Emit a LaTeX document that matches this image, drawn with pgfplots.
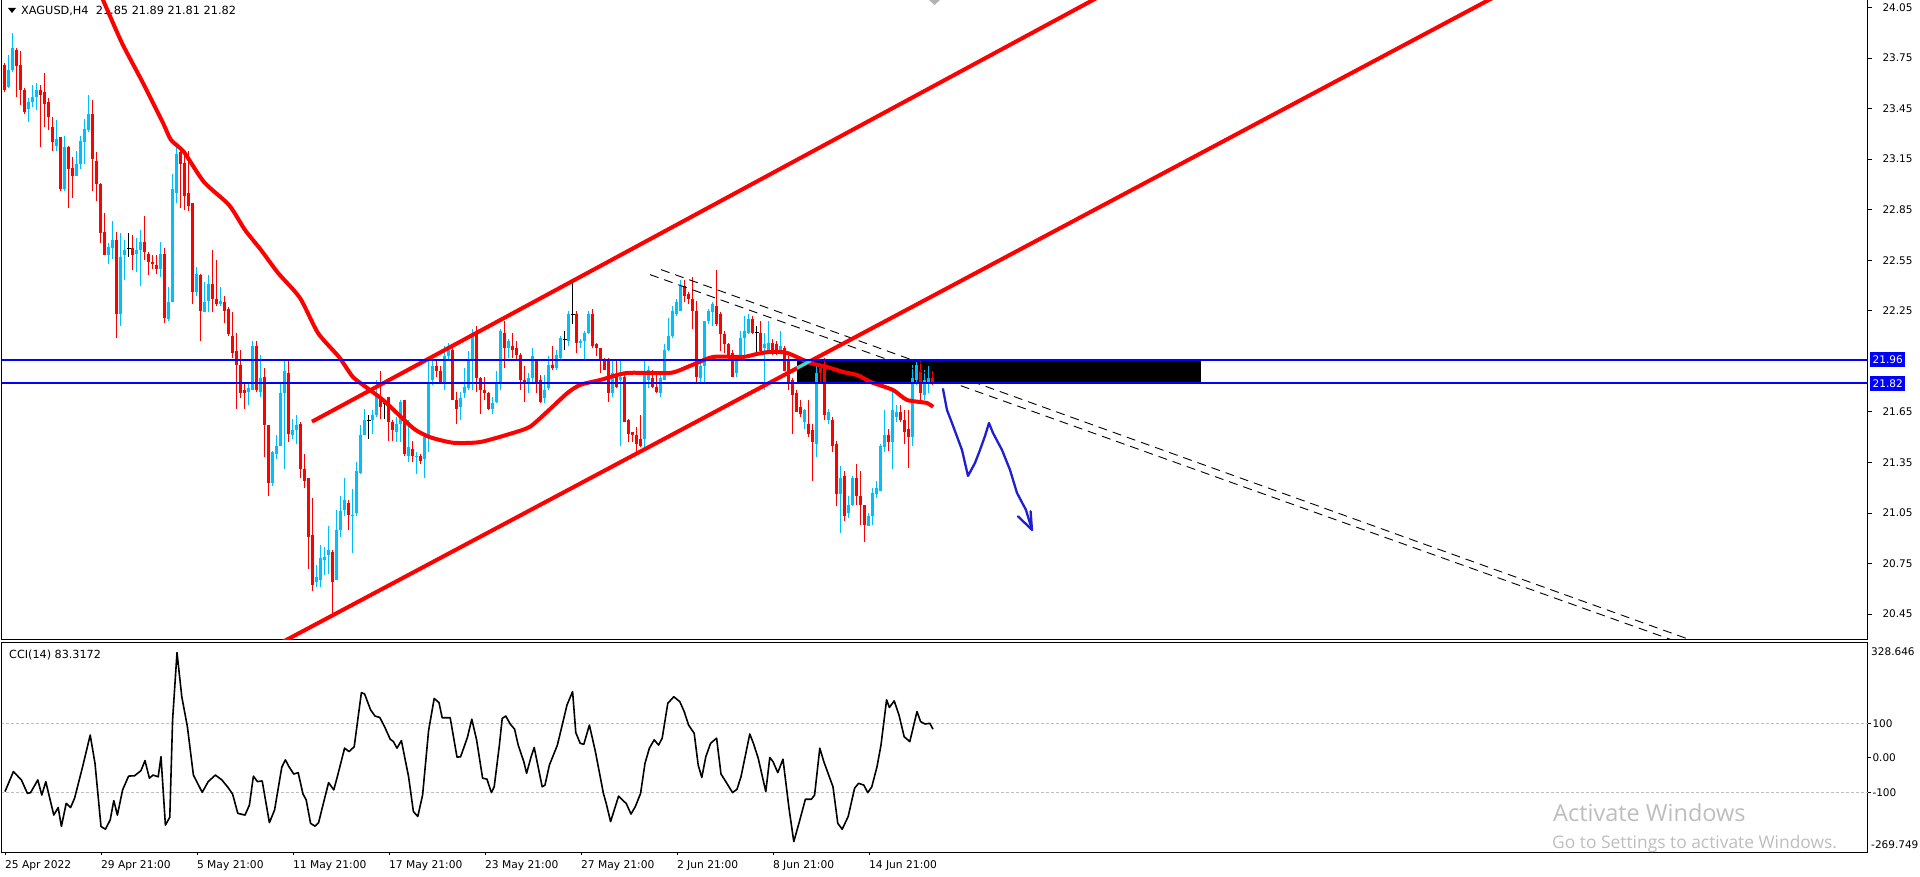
\documentclass[border=0pt]{standalone}
\usepackage{fontspec}
\setmainfont{DejaVu Sans}
\newfontfamily\wmfont{Open Sans}
\usepackage{pgfplots}
\usepackage{pgfplotstable}
\pgfplotsset{compat=1.18}
\definecolor{cblue}{RGB}{0,191,255}
\definecolor{cred}{RGB}{255,0,0}
\definecolor{lblue}{RGB}{0,0,255}
\definecolor{arrowblue}{RGB}{30,30,210}
\definecolor{wm}{RGB}{190,190,190}
\definecolor{ccigrid}{RGB}{190,190,190}
\definecolor{xorcyan}{RGB}{40,230,230}

% t: 1 = up (blue), 2 = down (red), 0 = doji (black)
\pgfplotstableread{
i t o h l c
0 2 23.71 23.72 23.55 23.56
1 1 23.58 23.77 23.57 23.68
2 1 23.68 23.90 23.67 23.81
3 2 23.80 23.81 23.52 23.70
4 2 23.71 23.79 23.47 23.56
5 2 23.56 23.57 23.42 23.43
6 1 23.45 23.51 23.37 23.49
7 1 23.49 23.59 23.46 23.52
8 1 23.52 23.60 23.44 23.56
9 2 23.56 23.59 23.22 23.53
10 2 23.55 23.66 23.34 23.48
11 2 23.49 23.51 23.32 23.40
12 2 23.34 23.40 23.20 23.25
13 1 23.23 23.38 23.20 23.27
14 2 23.28 23.28 22.96 22.97
15 1 22.97 23.29 22.96 23.22
16 2 23.22 23.23 22.86 23.09
17 2 23.10 23.16 22.92 23.05
18 1 23.05 23.20 23.05 23.12
19 1 23.12 23.29 23.09 23.26
20 1 23.25 23.39 23.12 23.33
21 1 23.32 23.53 23.31 23.42
22 2 23.42 23.50 22.96 23.15
23 2 23.14 23.19 22.90 23.00
24 2 23.00 23.01 22.65 22.71
25 2 22.72 22.83 22.58 22.58
26 1 22.58 22.65 22.53 22.63
27 1 22.62 22.78 22.56 22.67
28 2 22.67 22.72 22.09 22.23
29 1 22.23 22.71 22.16 22.57
30 1 22.58 22.67 22.43 22.61
31 0 22.62 22.71 22.57 22.62
32 2 22.62 22.70 22.49 22.58
33 1 22.59 22.68 22.48 22.61
34 1 22.61 22.73 22.40 22.66
35 2 22.66 22.81 22.55 22.60
36 2 22.59 22.60 22.46 22.54
37 2 22.54 22.58 22.50 22.53
38 2 22.52 22.58 22.47 22.50
39 1 22.50 22.66 22.45 22.59
40 2 22.59 22.62 22.18 22.21
41 1 22.20 22.39 22.19 22.30
42 1 22.30 23.06 22.30 22.97
43 1 22.95 23.24 22.89 23.18
44 2 23.19 23.21 22.86 23.12
45 2 23.13 23.19 22.85 22.93
46 2 22.95 23.20 22.84 22.87
47 2 22.89 22.89 22.29 22.36
48 1 22.36 22.51 22.34 22.47
49 2 22.46 22.47 22.07 22.25
50 1 22.24 22.42 22.24 22.30
51 1 22.31 22.46 22.24 22.41
52 2 22.41 22.61 22.24 22.32
53 2 22.32 22.55 22.28 22.29
54 1 22.29 22.39 22.28 22.31
55 2 22.30 22.34 22.18 22.25
56 2 22.26 22.27 22.10 22.11
57 2 22.10 22.24 21.97 22.00
58 2 22.01 22.12 21.67 21.93
59 2 21.93 22.02 21.73 21.76
60 2 21.78 21.83 21.67 21.76
61 1 21.77 21.83 21.69 21.79
62 1 21.78 22.07 21.78 22.04
63 2 22.04 22.07 21.77 21.78
64 1 21.77 21.99 21.74 21.85
65 2 21.86 21.91 21.38 21.57
66 2 21.57 21.57 21.15 21.23
67 1 21.23 21.42 21.21 21.41
68 1 21.40 21.51 21.37 21.45
69 1 21.45 21.82 21.45 21.76
70 1 21.76 21.95 21.31 21.89
71 2 21.88 21.95 21.47 21.52
72 1 21.51 21.61 21.49 21.54
73 1 21.54 21.63 21.46 21.57
74 2 21.58 21.59 21.26 21.31
75 2 21.31 21.40 21.20 21.24
76 2 21.26 21.26 20.72 20.91
77 2 20.92 21.14 20.59 20.62
78 1 20.64 20.74 20.61 20.67
79 1 20.65 20.86 20.61 20.78
80 1 20.77 20.85 20.68 20.79
81 1 20.80 20.97 20.69 20.83
82 2 20.82 20.83 20.44 20.64
83 1 20.65 21.07 20.65 20.95
84 1 20.95 21.15 20.91 21.06
85 1 21.07 21.26 21.03 21.13
86 2 21.11 21.13 20.95 21.04
87 1 21.03 21.19 20.81 21.04
88 1 21.05 21.35 21.03 21.30
89 1 21.29 21.57 21.28 21.51
90 1 21.51 21.67 21.51 21.60
91 0 21.60 21.63 21.49 21.60
92 1 21.60 21.66 21.52 21.63
93 1 21.63 21.84 21.62 21.75
94 2 21.74 21.89 21.61 21.68
95 0 21.70 21.71 21.61 21.70
96 2 21.74 21.74 21.48 21.59
97 2 21.59 21.60 21.48 21.54
98 1 21.53 21.62 21.47 21.58
99 1 21.58 21.72 21.47 21.71
100 2 21.72 21.72 21.39 21.40
101 1 21.39 21.60 21.35 21.44
102 2 21.43 21.48 21.35 21.39
103 1 21.38 21.41 21.28 21.39
104 2 21.39 21.40 21.34 21.36
105 1 21.37 21.51 21.26 21.50
106 1 21.51 21.96 21.41 21.83
107 1 21.84 21.95 21.81 21.92
108 2 21.92 21.95 21.86 21.89
109 2 21.89 21.92 21.82 21.82
110 1 21.82 22.04 21.78 21.98
111 1 21.98 22.06 21.96 22.02
112 2 22.02 22.04 21.72 21.72
113 2 21.72 21.77 21.58 21.67
114 1 21.68 21.77 21.60 21.73
115 1 21.76 21.91 21.73 21.80
116 1 21.79 22.01 21.78 21.95
117 1 21.95 22.14 21.78 22.12
118 2 22.12 22.16 21.77 21.85
119 2 21.85 21.86 21.64 21.78
120 2 21.78 21.86 21.72 21.76
121 2 21.76 21.77 21.66 21.67
122 1 21.67 21.74 21.64 21.70
123 1 21.71 21.89 21.70 21.82
124 1 21.83 22.14 21.78 22.13
125 2 22.12 22.19 21.91 22.03
126 1 22.03 22.08 21.97 22.07
127 2 22.04 22.12 21.97 22.02
128 2 22.03 22.07 21.95 21.99
129 2 21.99 22.00 21.78 21.84
130 2 21.84 21.92 21.71 21.82
131 1 21.82 21.88 21.76 21.85
132 1 21.85 22.03 21.82 21.98
133 2 21.95 21.96 21.76 21.82
134 2 21.84 21.87 21.70 21.71
135 1 21.73 21.87 21.70 21.78
136 1 21.79 21.98 21.78 21.93
137 2 21.93 22.04 21.90 21.91
138 1 21.91 22.02 21.90 21.99
139 1 21.97 22.10 21.95 22.09
140 0 22.08 22.13 22.02 22.08
141 1 22.07 22.25 22.04 22.23
142 0 22.23 22.42 22.17 22.23
143 2 22.23 22.25 22.00 22.06
144 1 22.06 22.08 22.03 22.07
145 1 22.07 22.13 21.96 22.12
146 1 22.12 22.25 22.11 22.23
147 2 22.23 22.26 22.03 22.04
148 2 22.05 22.06 21.98 22.03
149 2 22.03 22.03 21.88 21.96
150 2 21.96 21.97 21.90 21.90
151 2 21.96 21.97 21.71 21.76
152 1 21.76 21.96 21.74 21.88
153 2 21.86 21.95 21.79 21.80
154 1 21.84 21.96 21.45 21.86
155 2 21.86 21.87 21.59 21.59
156 2 21.60 21.61 21.47 21.52
157 2 21.53 21.53 21.47 21.51
158 2 21.51 21.56 21.41 21.46
159 2 21.49 21.63 21.44 21.45
160 1 21.49 21.95 21.44 21.87
161 1 21.84 21.92 21.79 21.90
162 2 21.85 21.90 21.79 21.80
163 2 21.80 21.87 21.76 21.77
164 1 21.76 21.87 21.74 21.85
165 1 21.84 22.05 21.84 22.02
166 1 22.02 22.21 22.01 22.10
167 1 22.10 22.28 22.09 22.25
168 1 22.23 22.32 22.22 22.30
169 1 22.25 22.43 22.25 22.40
170 2 22.40 22.43 22.30 22.34
171 2 22.35 22.36 22.29 22.32
172 2 22.32 22.45 22.14 22.25
173 2 22.25 22.31 21.82 21.86
174 1 21.85 21.96 21.82 21.92
175 1 21.92 22.19 21.83 22.19
176 1 22.19 22.26 22.17 22.25
177 1 22.24 22.30 22.16 22.29
178 2 22.28 22.49 22.16 22.17
179 2 22.23 22.24 22.01 22.11
180 2 22.11 22.13 22.00 22.05
181 2 22.05 22.06 21.96 21.99
182 2 22.00 22.02 21.86 21.86
183 1 21.88 21.99 21.86 21.98
184 1 21.98 22.13 21.97 22.09
185 1 22.09 22.22 21.98 22.13
186 1 22.12 22.23 22.11 22.20
187 2 22.20 22.22 22.11 22.12
188 0 22.12 22.16 22.00 22.12
189 2 22.12 22.19 22.00 22.01
190 1 22.03 22.12 21.78 22.05
191 1 22.01 22.19 22.00 22.06
192 2 22.06 22.08 21.99 22.00
193 2 22.05 22.07 21.99 22.00
194 1 22.01 22.13 22.00 22.04
195 2 22.03 22.04 21.89 21.89
196 2 21.96 21.98 21.78 21.83
197 2 21.84 21.85 21.52 21.75
198 2 21.76 21.78 21.65 21.65
199 2 21.68 21.72 21.62 21.64
200 1 21.59 21.67 21.55 21.66
201 2 21.58 21.72 21.50 21.52
202 2 21.54 21.58 21.24 21.47
203 1 21.46 21.94 21.38 21.88
204 2 21.91 21.93 21.83 21.88
205 2 21.93 21.97 21.60 21.63
206 1 21.60 21.67 21.58 21.65
207 2 21.60 21.62 21.41 21.45
208 2 21.46 21.48 21.09 21.16
209 1 21.16 21.33 20.93 21.26
210 2 21.27 21.30 21.00 21.03
211 1 21.05 21.15 21.02 21.10
212 1 21.10 21.27 21.09 21.26
213 2 21.26 21.34 21.10 21.15
214 2 21.15 21.30 20.98 21.10
215 2 21.10 21.10 20.88 20.98
216 1 20.97 21.05 20.97 21.03
217 1 21.03 21.20 20.98 21.17
218 1 21.16 21.24 21.14 21.20
219 1 21.18 21.46 21.18 21.45
220 1 21.44 21.66 21.41 21.51
221 2 21.51 21.55 21.42 21.47
222 1 21.47 21.78 21.31 21.66
223 1 21.62 21.69 21.59 21.65
224 2 21.65 21.69 21.59 21.60
225 2 21.60 21.66 21.46 21.53
226 2 21.55 21.66 21.32 21.50
227 1 21.50 21.93 21.45 21.85
228 1 21.84 21.95 21.81 21.93
229 2 21.90 21.95 21.72 21.76
230 1 21.75 21.90 21.72 21.84
231 1 21.83 21.92 21.76 21.85
232 2 21.85 21.89 21.81 21.82
}\candles

% build one jump-separated segment list per colour from the OHLC table
\def\rw{}\def\rb{}\def\bw{}\def\bb{}\def\kw{}\def\kb{}
\pgfplotsforeachungrouped \cidx in {0,...,232}{%
 \pgfplotstablegetelem{\cidx}{t}\of{\candles}\let\ct\pgfplotsretval
 \pgfplotstablegetelem{\cidx}{o}\of{\candles}\let\co\pgfplotsretval
 \pgfplotstablegetelem{\cidx}{h}\of{\candles}\let\ch\pgfplotsretval
 \pgfplotstablegetelem{\cidx}{l}\of{\candles}\let\cl\pgfplotsretval
 \pgfplotstablegetelem{\cidx}{c}\of{\candles}\let\cc\pgfplotsretval
 \ifcase\ct\relax
  \pgfmathsetmacro\xa{\cidx-0.4}\pgfmathsetmacro\xb{\cidx+0.4}%
  \xdef\kw{\kw (\cidx,\cl) (\cidx,\ch) (\cidx,nan)}%
  \xdef\kb{\kb (\xa,\co) (\xb,\co) (\cidx,nan)}%
 \or
  \xdef\bw{\bw (\cidx,\cl) (\cidx,\ch) (\cidx,nan)}%
  \xdef\bb{\bb (\cidx,\co) (\cidx,\cc) (\cidx,nan)}%
 \or
  \xdef\rw{\rw (\cidx,\cl) (\cidx,\ch) (\cidx,nan)}%
  \xdef\rb{\rb (\cidx,\co) (\cidx,\cc) (\cidx,nan)}%
 \fi
}
\edef\plotcandles{%
 \noexpand\addplot[cred, line width=1pt, unbounded coords=jump] coordinates {\rw};
 \noexpand\addplot[cred, line width=3pt, unbounded coords=jump] coordinates {\rb};
 \noexpand\addplot[cblue, line width=1pt, unbounded coords=jump] coordinates {\bw};
 \noexpand\addplot[cblue, line width=3pt, unbounded coords=jump] coordinates {\bb};
 \noexpand\addplot[black, line width=1pt, unbounded coords=jump] coordinates {\kw};
 \noexpand\addplot[black, line width=1pt, unbounded coords=jump] coordinates {\kb};
}

\begin{document}
\begin{tikzpicture}
\useasboundingbox (0pt,0pt) rectangle (1920pt,876pt);
\fill[white] (0pt,0pt) rectangle (1920pt,876pt);
% title
\fill[black] (8pt,868pt) -- (16pt,868pt) -- (12pt,863pt) -- cycle;
\node[anchor=west, inner sep=0pt, font=\fontsize{11.3}{13}\selectfont] at (21pt,865pt) {XAGUSD,H4\ \ 21.85 21.89 21.81 21.82};
\fill[gray!60] (929pt,876pt) -- (940pt,876pt) -- (934.5pt,871pt) -- cycle;

% ===== main price panel =====
\begin{axis}[
 at={(2pt,236pt)}, anchor=south west, scale only axis,
 width=1866pt, height=640pt,
 xmin=-0.75, xmax=465.75, ymin=20.2963, ymax=24.0945,
 xtick=\empty,
 ytick={20.45,20.75,21.05,21.35,21.65,22.25,22.55,22.85,23.15,23.45,23.75,24.05},
 yticklabels={20.45,20.75,21.05,21.35,21.65,22.25,22.55,22.85,23.15,23.45,23.75,24.05},
 ytick pos=right, yticklabel pos=right, tick align=outside, major tick length=4pt,
 tick style={black, line width=0.8pt},
 yticklabel style={anchor=west, font=\fontsize{10.5}{12}\selectfont, xshift=7pt},
 axis line style={black, line width=1pt},
]
% black zone
\addplot[fill=black, draw=none] coordinates {(198,21.82) (298.9,21.82) (298.9,21.96) (198,21.96)} -- cycle;

% candles
\plotcandles

% dashed trend lines
\addplot[black, line width=0.9pt, dash pattern=on 9pt off 6pt] coordinates {(164,22.4945) (425,20.266)};
\addplot[black, line width=0.9pt, dash pattern=on 9pt off 6pt] coordinates {(161.25,22.4648) (420,20.269)};

% moving average
\addplot[cred, line width=4pt, line join=round, smooth, tension=0.4] coordinates {
(22.5,24.20) (24.5,24.0945) (29.25,23.839) (34.5,23.602) (39.5,23.365) (41.5,23.264) (44.75,23.192) (49.75,23.014) (56,22.878) (60,22.730) (64,22.611) (68.25,22.475) (73.75,22.326) (78.25,22.118) (83.5,21.976) (87,21.857) (91.25,21.780) (94.5,21.721) (99,21.620) (102.5,21.545) (106.25,21.500) (112,21.467) (118.75,21.471) (127,21.525) (131.25,21.562) (135.5,21.650) (140.5,21.760) (143.75,21.810) (148.75,21.839) (155.5,21.881) (166.25,21.881) (171.25,21.923) (177,21.976) (184.5,21.976) (188,21.994) (191.25,22.006) (195.5,22.000) (201.25,21.941) (205.5,21.917) (209.5,21.887) (213,21.869) (215.5,21.839) (217,21.822) (222,21.780) (225.5,21.721) (230.5,21.703) (232,21.679)};

% channel lines
\addplot[cred, line width=4pt] coordinates {(76.75,21.592) (280,24.197)};
\addplot[cred, line width=4pt] coordinates {(60,20.166) (380,24.209)};
\addplot[xorcyan, line width=3pt] coordinates {(198,21.91) (201.4,21.953)};

% horizontal levels
\addplot[lblue, line width=2pt] coordinates {(-1,21.96) (470,21.96)};
\addplot[lblue, line width=2pt] coordinates {(-1,21.82) (470,21.82)};

% hand-drawn projection arrow
\addplot[arrowblue, line width=2.3pt, line join=round, line cap=round] coordinates {
(234.5,21.786) (235.5,21.661) (236.75,21.584) (239.25,21.424) (240.75,21.270) (242.5,21.347) (243.75,21.424) (245,21.507) (246,21.584) (247,21.525) (249.25,21.424) (251.25,21.306) (253,21.169) (255.25,21.068) (256.75,20.950)};
\addplot[arrowblue, line width=2.3pt, line join=round, line cap=round] coordinates {(253.25,21.030) (256.75,20.950) (256.4,21.060)};

\coordinate (b1) at (axis cs:465.75,21.96);
\coordinate (b2) at (axis cs:465.75,21.82);
\end{axis}

\node[fill=lblue, text=white, anchor=west, inner xsep=2.5pt, inner ysep=0pt, minimum height=15pt, font=\fontsize{10.5}{12}\selectfont] at ([xshift=2pt]b1) {21.96};
\node[fill=lblue, text=white, anchor=west, inner xsep=2.5pt, inner ysep=0pt, minimum height=15pt, font=\fontsize{10.5}{12}\selectfont] at ([xshift=2pt]b2) {21.82};

% ===== CCI panel =====
\begin{axis}[
 at={(2pt,24pt)}, anchor=south west, scale only axis,
 width=1866pt, height=209pt,
 xmin=-0.75, xmax=465.75, ymin=-273, ymax=332.8,
 xtick={0,24,48,72,96,120,144,168,192,216},
 xticklabels={25 Apr 2022,29 Apr 21:00,5 May 21:00,11 May 21:00,17 May 21:00,23 May 21:00,27 May 21:00,2 Jun 21:00,8 Jun 21:00,14 Jun 21:00},
 xtick pos=bottom, ytick pos=right, yticklabel pos=right,
 ytick={-100,0,100}, yticklabels={-100,0.00,100},
 tick align=outside, major tick length=3pt,
 tick style={black, line width=0.8pt},
 xticklabel style={anchor=north west, font=\fontsize{10.7}{12}\selectfont, xshift=-3.5pt, yshift=-2.5pt},
 yticklabel style={anchor=west, font=\fontsize{10.5}{12}\selectfont, xshift=-2pt},
 axis line style={black, line width=1pt},
]
\addplot[ccigrid, line width=0.8pt, dash pattern=on 3pt off 2pt] coordinates {(-1,100) (470,100)};
\addplot[ccigrid, line width=0.8pt, dash pattern=on 3pt off 2pt] coordinates {(-1,-100) (470,-100)};
\addplot[black, line width=1.6pt, line join=round] coordinates {
(0,-98) (2.1,-40) (4.1,-64) (5.6,-103) (6.4,-101) (8.2,-64) (9.2,-108) (10.2,-69) (11.0,-108) (12.2,-166) (13.3,-144) (14.1,-199) (15.3,-132) (16.4,-144) (17.4,-117) (19.4,-26) (21.3,66) (22.5,-16) (24.0,-199) (25.1,-207) (26.3,-180) (27.2,-124) (28.1,-166) (29.4,-93) (30.9,-53) (32.4,-52) (34.0,-37) (35.0,-8) (36.1,-59) (37.0,-50) (38.3,-55) (39.0,3) (40.1,-195) (41.2,-172) (41.9,110) (43.0,305) (44.2,177) (45.6,90) (47.1,-50) (49.3,-100) (50.8,-69) (52.6,-50) (54.2,-64) (55.7,-85) (56.9,-105) (58.2,-161) (60.0,-166) (61.1,-137) (62.1,-53) (63.1,-69) (64.3,-67) (66.1,-188) (67.4,-151) (69.2,-27) (70.1,-6) (71.0,-26) (72.2,-47) (73.3,-43) (74.5,-105) (75.3,-122) (76.4,-190) (77.5,-198) (78.4,-188) (79.4,-141) (80.9,-72) (82.2,-93) (83.3,-45) (84.9,28) (86.0,18) (87.3,32) (89.1,189) (89.9,185) (91.4,139) (92.5,121) (93.7,117) (94.9,90) (96.3,54) (97.1,47) (98.0,28) (99.1,50) (100.9,-55) (102.1,-156) (103.2,-170) (104.4,-108) (105.9,79) (107.3,172) (108.5,160) (109.3,116) (111.3,116) (113.0,2) (113.9,3) (115.6,59) (116.7,112) (117.9,52) (119.4,-59) (120.5,-62) (121.6,-101) (122.3,-84) (123.6,37) (124.3,114) (125.2,121) (126.3,98) (127.4,83) (128.3,37) (129.7,-11) (130.4,-45) (131.5,2) (132.3,30) (134.3,-84) (135.0,-79) (136.1,-21) (138.1,37) (139.2,90) (140.5,153) (141.9,192) (142.7,73) (143.8,42) (144.7,39) (146.1,95) (147.6,18) (149.6,-103) (150.3,-132) (151.4,-185) (153.4,-111) (154.5,-124) (155.3,-132) (156.5,-163) (157.6,-141) (158.9,-103) (160.0,-16) (161.1,28) (162.3,52) (163.4,37) (164.3,57) (165.7,158) (167.2,177) (168.7,163) (169.8,134) (170.9,95) (172.3,71) (173.3,-21) (174.2,-57) (175.2,3) (176.4,42) (177.9,57) (179.0,-47) (180.2,-69) (181.9,-101) (183.0,-91) (184.0,-55) (186.2,69) (187.1,42) (188.3,-1) (190.2,-98) (191.2,1) (192.0,-11) (193.2,-43) (194.5,-4) (196.0,-146) (197.2,-243) (198.6,-185) (200.1,-120) (201.6,-120) (202.4,-108) (203.7,28) (204.7,-11) (207.0,-84) (208.2,-190) (209.3,-207) (210.8,-170) (212.4,-88) (213.4,-74) (214.7,-79) (215.7,-101) (216.7,-84) (218.0,-26) (219.0,37) (220.4,168) (221.1,146) (222.3,165) (223.5,124) (224.8,61) (226.2,47) (228.0,134) (228.9,105) (230.0,98) (231.2,100) (232.0,83)};
\end{axis}

\node[anchor=west, inner sep=0pt, font=\fontsize{11.2}{13}\selectfont] at (9pt,221pt) {CCI(14) 83.3172};
\node[anchor=west, inner sep=0pt, font=\fontsize{10.5}{12}\selectfont] at (1871pt,224pt) {328.646};
\node[anchor=west, inner sep=0pt, font=\fontsize{10.5}{12}\selectfont] at (1871pt,31pt) {-269.749};

% watermark
\node[anchor=west, inner sep=0pt, text=wm, font=\wmfont\fontsize{23.5}{26}\selectfont] at (1553pt,63pt) {Activate Windows};
\node[anchor=west, inner sep=0pt, text=wm, font=\wmfont\fontsize{17.4}{19}\selectfont] at (1552pt,32pt) {Go to Settings to activate Windows.};
\end{tikzpicture}
\end{document}
